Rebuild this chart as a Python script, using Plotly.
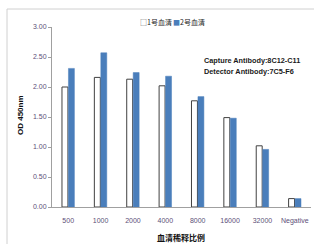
import plotly.graph_objects as go

categories = ["500", "1000", "2000", "4000", "8000", "16000", "32000", "Negative"]
serum1 = [2.00, 2.16, 2.13, 2.02, 1.77, 1.49, 1.02, 0.14]
serum2 = [2.31, 2.57, 2.24, 2.18, 1.84, 1.48, 0.96, 0.14]
series_names = ["1号血清", "2号血清"]
y_ticks = [0, 0.5, 1.0, 1.5, 2.0, 2.5, 3.0]
info_lines = ["Capture Antibody:8C12-C11", "Detector Antibody:7C5-F6"]

SANS = "Liberation Sans, Arial, sans-serif"
CJK = "Noto Sans CJK SC, sans-serif"
TICK_COLOR = "#5c4f78"

L, R, T, B = 52, 3, 27, 37
PW, PH = 314 - L - R, 244 - T - B


def px(x):
    return (x - L) / PW


def py(y):
    return (244 - B - y) / PH


fig = go.Figure()
fig.add_trace(go.Bar(
    x=categories, y=serum1, name=series_names[0],
    marker=dict(color="white", line=dict(color="#404040", width=1)),
    showlegend=False,
))
fig.add_trace(go.Bar(
    x=categories, y=serum2, name=series_names[1],
    marker=dict(color="#4a7ebb", line=dict(color="#4a7ebb", width=0.5)),
    showlegend=False,
))

fig.update_layout(
    width=314, height=244,
    margin=dict(l=L, r=R, t=T, b=B),
    paper_bgcolor="white", plot_bgcolor="white",
    barmode="group", bargap=0.6, bargroupgap=0.08,
    font=dict(family=SANS, size=7, color=TICK_COLOR),
    xaxis=dict(
        automargin=False,
        showline=True, linecolor="#a0a0a0", linewidth=1,
        ticks="", ticklabelstandoff=7,
        tickfont=dict(family=SANS, size=7, color=TICK_COLOR),
        fixedrange=True,
    ),
    yaxis=dict(
        automargin=False,
        range=[0, 3], tickvals=y_ticks, tickformat=".2f",
        showline=True, linecolor="#a0a0a0", linewidth=1,
        ticks="outside", ticklen=3, tickcolor="#a0a0a0",
        showgrid=False, zeroline=False,
        tickfont=dict(family=SANS, size=7, color=TICK_COLOR),
        fixedrange=True,
    ),
)

# axis titles
fig.add_annotation(xref="paper", yref="paper", x=px(181), y=py(237),
                   xanchor="center", yanchor="middle", showarrow=False,
                   text="<b>血清稀释比例</b>", font=dict(family=CJK, size=8, color="#111111"))
fig.add_annotation(xref="paper", yref="paper", x=px(20), y=py(115),
                   xanchor="center", yanchor="middle", showarrow=False, textangle=-90,
                   text="<b>OD 450nm</b>", font=dict(family=SANS, size=8, color="#111111"))

# legend drawn as annotations
fig.add_annotation(xref="paper", yref="paper", x=px(138), y=py(22),
                   xanchor="left", yanchor="middle", showarrow=False,
                   text="<span style='color:#555555'>□</span>" + series_names[0],
                   font=dict(family=CJK, size=7, color="#222222"))
fig.add_annotation(xref="paper", yref="paper", x=px(171), y=py(22),
                   xanchor="left", yanchor="middle", showarrow=False,
                   text="<span style='color:#4a7ebb'>■</span>" + series_names[1],
                   font=dict(family=CJK, size=7, color="#222222"))

for line, yy in zip(info_lines, [60, 71]):
    fig.add_annotation(xref="paper", yref="paper", x=px(202), y=py(yy),
                       xanchor="left", yanchor="middle", showarrow=False, align="left",
                       text="<b>" + line + "</b>",
                       font=dict(family=SANS, size=7.3, color="#1a1a1a"))

# outer chart border (top and left)
fig.add_shape(type="line", xref="paper", yref="paper",
              x0=px(7), x1=px(314), y0=py(9), y1=py(9),
              line=dict(color="#d0d0d0", width=1))
fig.add_shape(type="line", xref="paper", yref="paper",
              x0=px(7), x1=px(7), y0=py(9), y1=py(244),
              line=dict(color="#d0d0d0", width=1))

fig.write_html("out.html", config={"displayModeBar": False},
               post_script="document.body.style.margin='0';document.body.style.padding='0';")
